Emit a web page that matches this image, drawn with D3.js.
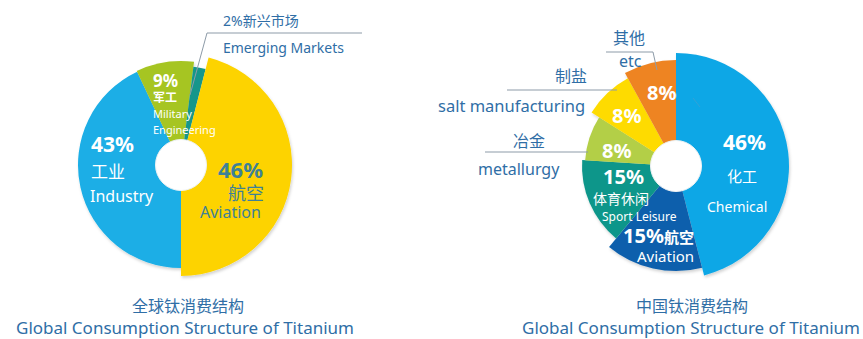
<!DOCTYPE html>
<html><head><meta charset="utf-8">
<script src="https://cdn.jsdelivr.net/npm/d3@7"></script>
<style>
html,body{margin:0;padding:0;background:#fff;}
svg{display:block;font-family:"Noto Sans","Noto Sans CJK SC",sans-serif;}
</style></head><body>
<svg id="chart" width="863" height="339"></svg>
<script>
// ---- data ----
const globalKeys = ["industry", "military", "emerging", "aviation"];
const globalShares = [43, 9, 2, 46];
const globalNamesZh = ["工业", "军工", "新兴市场", "航空"];
const globalNamesEn = ["Industry", "Military Engineering", "Emerging Markets", "Aviation"];

const chinaKeys = ["chemical", "aviation", "sport", "metallurgy", "salt", "etc"];
const chinaShares = [46, 15, 15, 8, 8, 8];
const chinaNamesZh = ["化工", "航空", "体育休闲", "冶金", "制盐", "其他"];
const chinaNamesEn = ["Chemical", "Aviation", "Sport Leisure", "metallurgy", "salt manufacturing", "etc"];

const titlesZh = ["全球钛消费结构", "中国钛消费结构"];
const titleEn = "Global Consumption Structure of Titanium";

// ---- styles ----
const globalStyle = {
  industry: { fill: "#1aaee6", r: 103 },
  military: { fill: "#a6c522", r: 104 },
  emerging: { fill: "#13968b", r: 99 },
  aviation: { fill: "#fdd300", r: 111 }
};
const chinaStyle = {
  chemical:   { fill: "#10a7e6", r: 113 },
  aviation:   { fill: "#0c5fac", r: 105 },
  sport:      { fill: "#10968a", r: 94 },
  metallurgy: { fill: "#b3cf46", r: 91 },
  salt:       { fill: "#fedb00", r: 100 },
  etc:        { fill: "#ee8422", r: 106 }
};
const labelBlue = "#2f6ea6";
const aviationText = "#3e8196";
const holeR = 25.5;

const svg = d3.select("#chart");
const defs = svg.append("defs");
const shadow = defs.append("filter").attr("id", "soft").attr("x", "-20%").attr("y", "-20%").attr("width", "140%").attr("height", "140%");
shadow.append("feDropShadow").attr("dx", 1).attr("dy", 2).attr("stdDeviation", 1.6)
  .attr("flood-color", "#000").attr("flood-opacity", 0.18);

function drawPie(cx, cy, keys, shares, style, startAngle) {
  const rows = keys.map((k, i) => ({ key: k, value: shares[i] }));
  const pie = d3.pie().sort(null).value(d => d.value)
    .startAngle(startAngle).endAngle(startAngle + 2 * Math.PI);
  const arcs = pie(rows);
  const g = svg.append("g").attr("transform", `translate(${cx},${cy})`);
  const slices = g.append("g").attr("filter", "url(#soft)");
  slices.selectAll("path").data(arcs).join("path")
    .attr("fill", d => style[d.data.key].fill)
    .attr("d", d => d3.arc().innerRadius(0).outerRadius(style[d.data.key].r)(d));
  g.append("circle").attr("r", holeR).attr("fill", "#fff")
    .attr("stroke", "#eef2f4").attr("stroke-width", 1);
  return g;
}

function text(g, x, y, str, size, color, weight, anchor) {
  return g.append("text").attr("x", x).attr("y", y).text(str)
    .attr("font-size", size).attr("fill", color)
    .attr("font-weight", weight || "normal")
    .attr("text-anchor", anchor || "start");
}

// ---- left: global ----
const L = { x: 181, y: 165 };
const gl = drawPie(L.x, L.y, globalKeys, globalShares, globalStyle, Math.PI);
const gs = k => globalShares[globalKeys.indexOf(k)];
const gz = k => globalNamesZh[globalKeys.indexOf(k)];
const ge = k => globalNamesEn[globalKeys.indexOf(k)];

text(gl, -90, -13, gs("industry") + "%", 21, "#fff", "bold");
text(gl, -90, 13, gz("industry"), 17, "#fff");
text(gl, -91, 37, ge("industry"), 16, "#fff");

text(gl, -28, -78, gs("military") + "%", 17, "#fff", "bold");
text(gl, -28, -63, gz("military"), 12, "#fff", "bold");
const milWords = ge("military").split(" ");
text(gl, -28, -47, milWords[0], 11, "#fff");
text(gl, -28, -31, milWords[1], 11, "#fff");

text(gl, 37, 13, gs("aviation") + "%", 22, aviationText, "bold");
text(gl, 47, 35, gz("aviation"), 18, aviationText);
text(gl, 19, 53, ge("aviation"), 16, aviationText);

// callout for the thin emerging-markets slice
gl.append("polyline")
  .attr("points", [[9, -70], [26, -132], [181, -132]].map(p => p.join(",")).join(" "))
  .attr("fill", "none").attr("stroke", "#8d9ba8").attr("stroke-width", 1);
text(gl, 42, -139, gs("emerging") + "%" + gz("emerging"), 14, labelBlue);
text(gl, 42, -112, ge("emerging"), 14, labelBlue);

// ---- right: China ----
const R = { x: 676, y: 166 };
const gr = drawPie(R.x, R.y, chinaKeys, chinaShares, chinaStyle, 0);
const cs = k => chinaShares[chinaKeys.indexOf(k)];
const cz = k => chinaNamesZh[chinaKeys.indexOf(k)];
const ce = k => chinaNamesEn[chinaKeys.indexOf(k)];

// faint pointer inside chemical slice
gr.append("line").attr("x1", 17).attr("y1", -68).attr("x2", 24).attr("y2", -59)
  .attr("stroke", "#5d9cc4").attr("stroke-width", 0.8).attr("opacity", 0.6);

text(gr, 47, -16, cs("chemical") + "%", 21, "#fff", "bold");
text(gr, 51, 16, cz("chemical"), 15, "#fff");
text(gr, 31, 46, ce("chemical"), 14, "#fff");

const av = text(gr, -53, 77, "", 20, "#fff", "bold");
av.append("tspan").text(cs("aviation") + "%");
av.append("tspan").attr("font-size", 15).text(cz("aviation"));
text(gr, -39, 96, ce("aviation"), 15, "#fff");

text(gr, -73, 18, cs("sport") + "%", 20, "#fff", "bold");
text(gr, -83, 38, cz("sport"), 14, "#fff");
text(gr, -74, 55, ce("sport"), 12, "#fff");

text(gr, -74, -8, cs("metallurgy") + "%", 20, "#fff", "bold");
text(gr, -64, -43, cs("salt") + "%", 20, "#fff", "bold");
text(gr, -29, -66, cs("etc") + "%", 20, "#fff", "bold");

// outside labels with rules
const rule = (pts) => gr.append("polyline")
  .attr("points", pts.map(p => p.join(",")).join(" "))
  .attr("fill", "none").attr("stroke", "#8d9ba8").attr("stroke-width", 1);
rule([[-70, -114], [-23, -114], [-19, -96]]);
rule([[-169, -76], [-59, -76]]);
rule([[-191, -14], [-88, -14]]);

text(gr, -63, -122, cz("etc"), 16, labelBlue);
text(gr, -57, -99, ce("etc"), 16, labelBlue);
text(gr, -121, -84, cz("salt"), 16, labelBlue);
text(gr, -238, -54, ce("salt"), 16.5, labelBlue);
text(gr, -163, -19, cz("metallurgy"), 16, labelBlue);
text(gr, -198, 9, ce("metallurgy"), 16, labelBlue);

// ---- titles ----
text(svg, 188, 312, titlesZh[0], 16, labelBlue, "normal", "middle");
text(svg, 185, 334, titleEn, 17, labelBlue, "normal", "middle");
text(svg, 692, 312, titlesZh[1], 16, labelBlue, "normal", "middle");
text(svg, 691, 334, titleEn, 17, labelBlue, "normal", "middle");
</script>
</body></html>
